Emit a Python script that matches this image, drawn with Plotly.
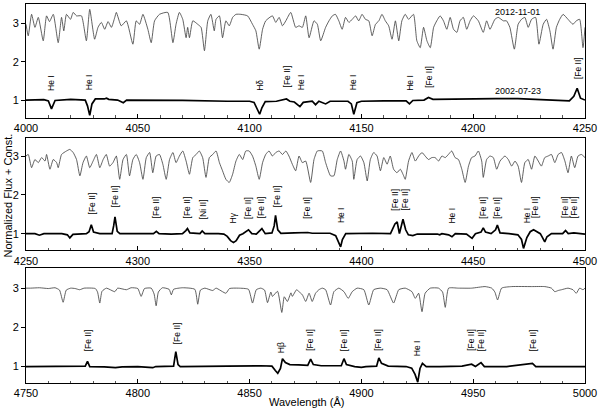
import plotly.graph_objects as go

# ---------------- Panel 1 (4000-4250 A) ----------------
p1_top_wave = [4000.0, 4001.0, 4002.5, 4004.0, 4005.5, 4007.7, 4009.2, 4010.5, 4012.2, 4014.4, 4015.9, 4016.9,
               4018.1, 4019.9, 4021.1, 4022.6, 4024.8, 4027.0, 4028.5, 4030.7, 4032.2, 4033.7, 4035.2, 4036.7,
               4038.2, 4039.7, 4040.4, 4042.6, 4044.9, 4047.8, 4049.3, 4050.8, 4052.3, 4054.5, 4056.0, 4057.5,
               4059.7, 4063.4, 4065.7, 4067.1, 4068.6, 4070.1, 4071.6, 4072.3, 4073.1, 4074.6, 4076.8, 4078.3,
               4079.8, 4081.3, 4082.7, 4084.2, 4085.0, 4086.5, 4087.9, 4089.4, 4090.9, 4092.4, 4093.9, 4096.1,
               4099.1, 4101.3, 4102.8, 4104.3, 4105.8, 4107.2, 4110.2, 4111.7, 4113.2, 4114.7, 4116.2, 4118.4,
               4120.6, 4122.1, 4123.6, 4125.1, 4126.6, 4128.8, 4130.3, 4131.8, 4134.0, 4135.5, 4137.0, 4138.4,
               4139.9, 4141.4, 4142.9, 4144.4, 4145.9, 4147.4, 4148.8, 4150.3, 4151.8, 4153.3, 4154.8, 4156.3,
               4157.8, 4159.2, 4160.7, 4162.2, 4163.7, 4165.2, 4166.7, 4168.1, 4169.6, 4171.1, 4173.3, 4174.8,
               4176.3, 4177.8, 4179.3, 4180.8, 4182.3, 4183.7, 4185.2, 4186.7, 4188.2, 4189.7, 4191.2, 4192.7,
               4194.1, 4195.6, 4197.1, 4198.6, 4200.1, 4202.3, 4204.5, 4206.0, 4207.5, 4209.7, 4211.2, 4213.5,
               4214.9, 4216.4, 4218.4, 4220.1, 4221.6, 4223.1, 4224.6, 4226.1, 4227.9, 4229.4, 4231.3, 4232.8,
               4234.3, 4235.7, 4237.2, 4238.7, 4240.2, 4242.4, 4244.6, 4246.1, 4247.6, 4249.1, 4250.0]
p1_top_flux = [2.98, 2.68, 3.24, 2.90, 3.16, 2.55, 3.20, 3.05, 3.24, 2.50, 3.16, 2.81,
               3.24, 3.11, 3.29, 3.20, 3.20, 2.55, 3.37, 2.59, 2.90, 3.03, 2.85, 3.05,
               2.90, 3.16, 3.29, 2.94, 3.07, 2.46, 3.07, 2.98, 3.24, 2.85, 2.50, 3.07,
               3.24, 3.29, 2.50, 2.98, 3.29, 3.11, 2.63, 2.90, 2.63, 3.07, 2.98, 2.90,
               2.29, 3.07, 3.24, 2.81, 3.11, 3.20, 2.63, 3.07, 2.94, 3.16, 3.24, 3.24,
               3.20, 2.98, 2.81, 2.33, 2.85, 3.07, 3.20, 3.03, 3.16, 2.94, 3.07, 3.29,
               2.90, 2.94, 2.90, 3.20, 2.63, 3.07, 2.98, 2.55, 2.90, 3.07, 3.20, 3.24,
               3.07, 2.85, 3.16, 3.03, 3.11, 3.20, 3.07, 3.24, 3.11, 3.07, 2.68, 2.98,
               3.07, 3.24, 3.07, 2.94, 2.59, 3.07, 2.55, 3.07, 3.24, 3.11, 3.24, 2.55,
               2.37, 2.90, 2.55, 2.37, 2.90, 3.07, 3.20, 3.07, 2.85, 3.16, 2.85, 2.77,
               3.07, 3.16, 2.85, 3.07, 3.20, 3.07, 2.77, 3.07, 2.85, 3.11, 3.16, 3.07,
               3.07, 2.90, 2.33, 2.98, 3.11, 3.16, 2.90, 3.11, 3.16, 2.46, 2.98, 3.11,
               2.81, 2.33, 2.90, 3.11, 3.24, 3.11, 2.98, 3.07, 3.11, 2.37, 2.90]
p1_bot_wave = [4000, 4008, 4010, 4011.4, 4013, 4020, 4026.5, 4027.5, 4028.5, 4029.5, 4031, 4035, 4036, 4037,
               4041, 4043.5, 4045, 4055, 4070, 4090, 4100, 4102, 4103.5, 4104.5, 4105.5, 4107, 4112, 4116.5,
               4118, 4120, 4122.5, 4124, 4128, 4129.5, 4131, 4134, 4136, 4144, 4145.5, 4146.6, 4148, 4150,
               4160, 4170, 4171.5, 4173, 4178, 4180, 4182, 4190, 4200, 4203, 4210, 4220, 4230, 4240, 4243,
               4245, 4246.5, 4248, 4250]
p1_bot_flux = [1.0, 1.01, 0.98, 0.77, 0.99, 1.02, 1.0, 0.85, 0.6, 0.9, 1.03, 1.03, 1.05, 1.02,
               1.0, 0.93, 1.0, 1.0, 0.99, 0.97, 0.97, 0.94, 0.75, 0.63, 0.8, 0.96, 0.97, 1.03,
               0.97, 0.95, 0.83, 0.94, 0.97, 0.88, 0.97, 0.9, 0.97, 0.97, 0.9, 0.63, 0.93, 0.97,
               0.98, 0.98, 0.9, 0.99, 1.0, 1.07, 1.02, 1.03, 1.04, 1.05, 1.04, 1.04, 1.02, 1.0, 0.98,
               1.1, 1.31, 1.05, 1.0]
p1_lab_wave = [4011.4, 4028.5, 4104.6, 4116.5, 4123.3, 4146.6, 4171.9, 4180.1, 4246.9]
p1_lab_y = [1.2, 1.2, 1.2, 1.29, 1.2, 1.2, 1.2, 1.26, 1.5]
p1_lab_text = ["He I", "He I", "Hδ", "[Fe II]", "He I", "He I", "He I", "[Fe II]", "[Fe II]"]

# ---------------- Panel 2 (4250-4500 A) ----------------
p2_top_wave = [4250.0, 4251.0, 4252.5, 4254.0, 4255.5, 4257.0, 4258.5, 4259.2, 4260.7, 4262.2, 4263.7, 4264.4,
               4265.9, 4268.1, 4269.6, 4271.1, 4272.6, 4274.1, 4275.5, 4277.0, 4278.5, 4280.0, 4281.5, 4283.0,
               4284.5, 4285.9, 4287.4, 4288.9, 4290.4, 4291.9, 4293.4, 4294.9, 4296.3, 4297.8, 4299.3, 4300.8,
               4302.3, 4303.8, 4305.3, 4306.7, 4308.2, 4309.7, 4311.2, 4312.7, 4314.2, 4315.7, 4317.1, 4318.6,
               4320.1, 4321.6, 4323.1, 4324.6, 4326.1, 4327.5, 4329.0, 4330.5, 4332.0, 4333.5, 4335.0, 4336.5,
               4337.9, 4339.4, 4340.9, 4342.4, 4343.9, 4345.4, 4346.9, 4348.3, 4349.8, 4351.3, 4352.8, 4354.3,
               4355.8, 4357.2, 4358.7, 4360.2, 4361.7, 4363.2, 4364.7, 4366.2, 4367.6, 4369.1, 4370.6, 4372.1,
               4373.6, 4375.1, 4377.3, 4378.8, 4380.3, 4382.5, 4384.0, 4386.2, 4387.7, 4389.2, 4390.7, 4392.2,
               4392.9, 4394.4, 4395.9, 4396.6, 4398.1, 4399.6, 4401.1, 4402.6, 4404.0, 4405.5, 4407.0, 4408.5,
               4410.0, 4411.5, 4412.9, 4414.4, 4415.9, 4417.4, 4418.9, 4419.6, 4421.1, 4422.6, 4424.1, 4425.6,
               4427.1, 4428.5, 4430.0, 4431.5, 4433.0, 4434.5, 4436.0, 4437.5, 4438.9, 4440.4, 4441.9, 4443.4,
               4444.9, 4446.4, 4447.9, 4449.3, 4450.8, 4452.3, 4453.8, 4454.5, 4456.0, 4457.5, 4459.0, 4460.5,
               4462.0, 4464.2, 4465.7, 4467.2, 4468.7, 4470.1, 4471.6, 4473.1, 4474.6, 4476.1, 4477.6, 4479.1,
               4480.5, 4482.0, 4483.5, 4485.0, 4486.5, 4488.0, 4489.5, 4491.0, 4492.4, 4493.9, 4495.4, 4496.9,
               4498.4, 4500.0]
p2_top_flux = [3.00, 3.04, 2.70, 2.91, 2.83, 2.96, 2.87, 3.04, 2.66, 2.91, 2.83, 2.70,
               3.04, 3.13, 3.17, 3.09, 2.91, 2.49, 2.83, 3.00, 2.70, 2.87, 3.04, 2.70,
               2.91, 3.04, 2.74, 2.83, 3.00, 2.40, 2.91, 3.04, 2.49, 2.91, 3.04, 2.83,
               2.40, 2.96, 3.09, 2.57, 3.00, 3.04, 2.79, 2.40, 2.91, 3.09, 2.83, 3.00,
               3.13, 2.87, 2.53, 2.96, 3.04, 3.13, 2.96, 2.45, 2.96, 3.04, 3.13, 2.83,
               2.62, 2.40, 2.32, 2.53, 2.87, 3.04, 2.91, 3.13, 3.13, 3.00, 2.74, 2.40,
               2.83, 3.04, 3.13, 3.00, 3.09, 3.13, 3.04, 3.13, 3.00, 2.79, 2.62, 3.00,
               2.83, 2.87, 2.32, 2.91, 3.13, 3.13, 2.83, 2.49, 2.49, 2.91, 3.13, 2.87,
               2.66, 3.04, 2.87, 2.40, 2.91, 3.00, 2.83, 2.36, 2.91, 3.09, 3.00, 2.62,
               2.96, 2.79, 3.00, 2.66, 2.57, 2.66, 2.49, 2.40, 2.87, 3.09, 2.87, 3.00,
               3.09, 3.00, 2.91, 2.96, 2.96, 2.87, 3.00, 2.96, 3.04, 3.13, 2.96, 2.91,
               2.66, 2.32, 2.74, 2.96, 3.00, 3.13, 2.87, 2.45, 2.91, 3.00, 2.96, 2.66,
               2.87, 3.00, 2.91, 2.74, 2.87, 2.74, 2.32, 2.83, 2.91, 2.66, 3.00, 2.87,
               2.74, 2.96, 3.00, 3.04, 2.83, 3.04, 3.09, 2.87, 2.57, 3.00, 2.70, 3.00,
               3.04, 2.96]
p2_bot_wave = [4250, 4254, 4256, 4258, 4266, 4268.5, 4269.6, 4271, 4277, 4278.2, 4279.2, 4280.2, 4283,
               4288.5, 4289.2, 4289.8, 4290.8, 4292, 4300, 4307, 4308.3, 4309.5, 4315, 4320, 4321.5, 4322.2,
               4323.3, 4327.8, 4328.8, 4330, 4336, 4338.5, 4340, 4341.5, 4342.8, 4344, 4345.5, 4347, 4349.5,
               4351, 4353, 4355.5, 4357, 4360, 4361, 4361.6, 4362.6, 4364, 4370, 4375, 4376, 4378, 4386,
               4388.5, 4390, 4390.7, 4391.5, 4393, 4405, 4413, 4415, 4416, 4417, 4418.6, 4419.8, 4421, 4423,
               4425, 4434, 4435, 4436, 4439, 4440.5, 4442, 4447, 4449.5, 4451, 4453.5, 4454.5, 4455.5, 4458,
               4460, 4460.8, 4462, 4466, 4470, 4471.6, 4472.5, 4474, 4475.5, 4477, 4478.5, 4480, 4481, 4482,
               4483, 4485, 4490, 4491.3, 4492.5, 4495, 4500]
p2_bot_flux = [1.0, 1.0, 0.96, 1.0, 1.0, 0.97, 0.89, 0.98, 1.0, 1.05, 1.23, 1.04, 1.0,
               1.0, 1.2, 1.43, 1.06, 1.0, 1.0, 1.0, 1.06, 1.0, 0.99, 1.0, 1.08, 1.13,
               1.02, 1.0, 1.07, 1.0, 1.0, 0.99, 0.93, 0.82, 0.77, 0.82, 0.96, 1.0, 1.1,
               1.0, 0.99, 1.13, 1.0, 1.02, 1.2, 1.47, 1.1, 1.01, 1.02, 1.04, 1.03, 1.01, 1.01,
               0.95, 0.72, 0.66, 0.85, 1.0, 1.01, 1.0, 1.25, 1.3, 1.0, 1.37, 1.1, 0.97, 0.95,
               0.99, 0.99, 0.97, 1.0, 0.97, 0.92, 1.0, 0.99, 0.88, 1.0, 1.04, 1.15, 1.04, 1.0,
               1.1, 1.22, 1.02, 1.0, 0.97, 0.85, 0.62, 0.9, 1.05, 1.1, 1.06, 1.0, 0.9, 0.79,
               0.92, 1.0, 1.0, 1.08, 1.0, 1.02, 0.99]
p2_lab_wave = [4279.3, 4289.7, 4308.5, 4322.0, 4329.0, 4342.8, 4349.5, 4355.5, 4362.0, 4375.8, 4390.7,
               4415.2, 4419.6, 4440.1, 4454.5, 4460.8, 4474.0, 4477.9, 4491.3, 4495.4]
p2_lab_y = [1.43, 1.62, 1.34, 1.34, 1.31, 1.21, 1.34, 1.34, 1.64, 1.34, 1.21,
            1.55, 1.55, 1.21, 1.34, 1.34, 1.21, 1.34, 1.34, 1.34]
p2_lab_text = ["[Fe II]", "[Fe II]", "[Fe II]", "[Fe II]", "[Ni II]", "Hγ", "[Fe II]", "[Fe II]", "[Fe II]",
               "[Fe II]", "He I", "[Fe II]", "[Fe II]", "He I", "[Fe II]", "[Fe II]", "He I", "[Fe II]",
               "[Fe II]", "[Fe II]"]

# ---------------- Panel 3 (4750-5000 A) ----------------
p3_top_wave = [4750, 4752, 4756, 4760, 4763, 4765, 4766.6, 4768, 4770, 4772, 4774, 4776, 4781, 4782, 4783,
               4784, 4786, 4789.7, 4791, 4794.9, 4797, 4800, 4801.5, 4803, 4806, 4807.3, 4808.2, 4809.2,
               4811, 4814, 4815, 4816, 4820, 4825.5, 4826.8, 4828, 4830, 4833.5, 4835, 4839.4, 4841, 4845,
               4849.5, 4851.3, 4853, 4855, 4856.7, 4858, 4859.5, 4860.2, 4862.5, 4864.4, 4865.5, 4866.9,
               4868.5, 4869.1, 4871, 4872.1, 4873.6, 4875.1, 4876.6, 4878.0, 4879.5, 4881.0, 4882.5, 4884.0,
               4886.2, 4887.7, 4889.9, 4892.2, 4894.1, 4895.9, 4898.1, 4901.1, 4903.3, 4905.5, 4908.5,
               4911.5, 4914.4, 4916.7, 4919.6, 4922.6, 4924.1, 4925.6, 4927.1, 4928.5, 4930.8, 4934.5,
               4936.3, 4937.5, 4939.0, 4943.4, 4949.3, 4955.3, 4958.3, 4959.7, 4960.9, 4962.7, 4967.2,
               4976.1, 4982.0, 4985.0, 4986.5, 4988.0, 4989.5, 4992.4, 4994.6, 4996.1, 4997.6, 4999.1, 5000]
p3_top_flux = [3.0, 3.0, 3.01, 2.99, 3.01, 2.95, 2.64, 2.95, 3.0, 2.99, 2.96, 3.0, 2.99, 2.9, 2.62,
               2.92, 3.0, 2.91, 3.0, 2.96, 3.01, 2.99, 2.79, 2.99, 3.0, 2.85, 2.55, 2.9,
               3.01, 2.97, 2.83, 2.97, 3.01, 2.97, 2.59, 2.95, 3.0, 2.94, 3.0, 2.87, 2.99, 3.0,
               2.97, 2.62, 2.96, 3.0, 2.95, 2.63, 2.9, 2.79, 2.92, 2.38, 2.78, 2.66,
               2.88, 2.79, 2.96, 2.91, 2.83, 2.66, 2.87, 2.66, 2.87, 2.96, 3.0, 2.96,
               2.57, 2.91, 3.0, 2.91, 2.74, 2.91, 3.0, 2.96, 2.57, 2.96, 3.0,
               2.96, 2.62, 2.96, 3.0, 2.91, 2.74, 2.87, 2.40, 2.87, 3.0, 3.0,
               2.9, 2.51, 3.0, 3.0, 3.0, 3.04, 3.0, 2.9, 2.70, 3.0, 3.04,
               3.04, 3.04, 3.0, 2.91, 2.94, 2.96, 3.0, 2.96, 2.87, 3.0, 2.96, 3.0]
p3_bot_wave = [4750, 4770, 4776.5, 4777.5, 4778.5, 4785, 4790, 4793, 4800, 4805, 4806.7, 4808, 4816, 4817,
               4818, 4819, 4830, 4840, 4855, 4860, 4861.5, 4862.6, 4863.8, 4864.7, 4866, 4868, 4872, 4876,
               4877.3, 4878.5, 4882, 4891, 4892.2, 4893.3, 4897, 4900, 4902, 4906.8, 4907.8, 4909, 4912,
               4920, 4922.5, 4924, 4925.2, 4926.2, 4927.3, 4929, 4935, 4945, 4949.3, 4951, 4953.5, 4955,
               4965, 4976.5, 4978, 4990, 5000]
p3_bot_flux = [1.0, 1.0, 1.01, 1.13, 1.0, 0.99, 0.97, 0.99, 1.0, 0.98, 0.97, 1.0, 1.01, 1.38,
               1.05, 1.0, 1.0, 1.01, 1.02, 1.01, 0.9, 0.83, 0.95, 1.2, 1.1, 1.05, 1.04, 1.03,
               1.19, 1.05, 1.02, 1.02, 1.2, 1.05, 1.0, 0.98, 1.0, 1.01, 1.22, 1.08, 1.01,
               1.0, 0.96, 0.8, 0.6, 0.95, 1.08, 1.0, 1.0, 1.01, 1.06, 1.0, 1.1, 1.0,
               1.0, 1.08, 1.0, 0.99, 1.0]
p3_lab_wave = [4777.8, 4817.4, 4864.0, 4877.3, 4892.2, 4907.7, 4924.8, 4949.3, 4953.5, 4976.8]
p3_lab_y = [1.34, 1.51, 1.3, 1.34, 1.34, 1.34, 1.21, 1.34, 1.34, 1.34]
p3_lab_text = ["[Fe II]", "[Fe II]", "Hβ", "[Fe II]", "[Fe II]", "[Fe II]", "He I", "[Fe II]", "[Fe II]",
               "[Fe II]"]

x_ranges = [[4000, 4250], [4250, 4500], [4750, 5000]]
y_ranges = [[0.54, 3.51], [0.57, 3.47], [0.58, 3.51]]
y_domains = [[0.70, 1.0], [0.35, 0.647], [0.0, 0.303]]
date_top = "2012-11-01"
date_bot = "2002-07-23"

FONT = "Liberation Sans, Arial, Helvetica, sans-serif"

panels = [
    (p1_top_wave, p1_top_flux, p1_bot_wave, p1_bot_flux, p1_lab_wave, p1_lab_y, p1_lab_text),
    (p2_top_wave, p2_top_flux, p2_bot_wave, p2_bot_flux, p2_lab_wave, p2_lab_y, p2_lab_text),
    (p3_top_wave, p3_top_flux, p3_bot_wave, p3_bot_flux, p3_lab_wave, p3_lab_y, p3_lab_text),
]

fig = go.Figure()
annotations = []
layout = {}
for i, (tw, tf, bw, bf, lw, ly, lt) in enumerate(panels):
    n = i + 1
    xa = "x" if n == 1 else f"x{n}"
    ya = "y" if n == 1 else f"y{n}"
    fig.add_trace(go.Scatter(x=tw, y=tf, mode="lines", xaxis=xa, yaxis=ya,
                             line=dict(color="#3a3a3a", width=0.8, shape="spline", smoothing=0.5),
                             showlegend=False, hoverinfo="skip"))
    fig.add_trace(go.Scatter(x=bw, y=bf, mode="lines", xaxis=xa, yaxis=ya,
                             line=dict(color="black", width=1.7), showlegend=False, hoverinfo="skip"))
    for w, yv, t in zip(lw, ly, lt):
        annotations.append(dict(x=w, y=yv, xref=xa, yref=ya, text=t, textangle=-90,
                                showarrow=False, xanchor="center", yanchor="bottom",
                                font=dict(size=8.5, color="black", family=FONT)))
    layout[f"xaxis{'' if n == 1 else n}"] = dict(
        range=x_ranges[i], anchor=ya, domain=[0, 1], dtick=50, tick0=x_ranges[i][0],
        ticks="inside", ticklen=4, tickcolor="black", showgrid=False, zeroline=False,
        showline=True, linecolor="black", linewidth=1, mirror=True,
        tickfont=dict(size=11, color="black", family=FONT),
        minor=dict(dtick=10, ticks="inside", ticklen=2.5, tickcolor="#555", showgrid=False))
    layout[f"yaxis{'' if n == 1 else n}"] = dict(
        range=y_ranges[i], anchor=xa, domain=y_domains[i], tickvals=[1, 2, 3],
        ticks="outside", ticklen=4, tickcolor="black", showgrid=False, zeroline=False,
        showline=True, linecolor="black", linewidth=1, mirror=True,
        tickfont=dict(size=11, color="black", family=FONT))
    layout[f"yaxis{n + 3}"] = dict(
        range=y_ranges[i], overlaying=ya, anchor=xa, side="right", tickvals=[1, 2, 3],
        ticks="inside", ticklen=4, tickcolor="black", showticklabels=False,
        showgrid=False, zeroline=False, showline=False)

annotations.append(dict(x=4220, y=3.29, xref="x", yref="y", text=date_top, showarrow=False,
                        font=dict(size=9, color="black", family=FONT)))
annotations.append(dict(x=4220, y=1.24, xref="x", yref="y", text=date_bot, showarrow=False,
                        font=dict(size=9, color="black", family=FONT)))
annotations.append(dict(x=-0.032, y=0.495, xref="paper", yref="paper", text="Normalized Flux + Const.",
                        textangle=-90, showarrow=False, xanchor="center", yanchor="middle",
                        font=dict(size=11, color="black", family=FONT)))
annotations.append(dict(x=0.501, y=-0.05, xref="paper", yref="paper", text="Wavelength (Å)",
                        showarrow=False, xanchor="center", yanchor="middle",
                        font=dict(size=11, color="black", family=FONT)))

fig.update_layout(**layout)
fig.update_layout(width=600, height=410, margin=dict(l=26, r=13, t=3, b=27),
                  paper_bgcolor="white", plot_bgcolor="white", annotations=annotations,
                  font=dict(family=FONT, color="black"))
fig.write_html("out.html", config={"displayModeBar": False, "staticPlot": True},
               post_script="document.body.style.margin='0';document.body.style.overflow='hidden';")
